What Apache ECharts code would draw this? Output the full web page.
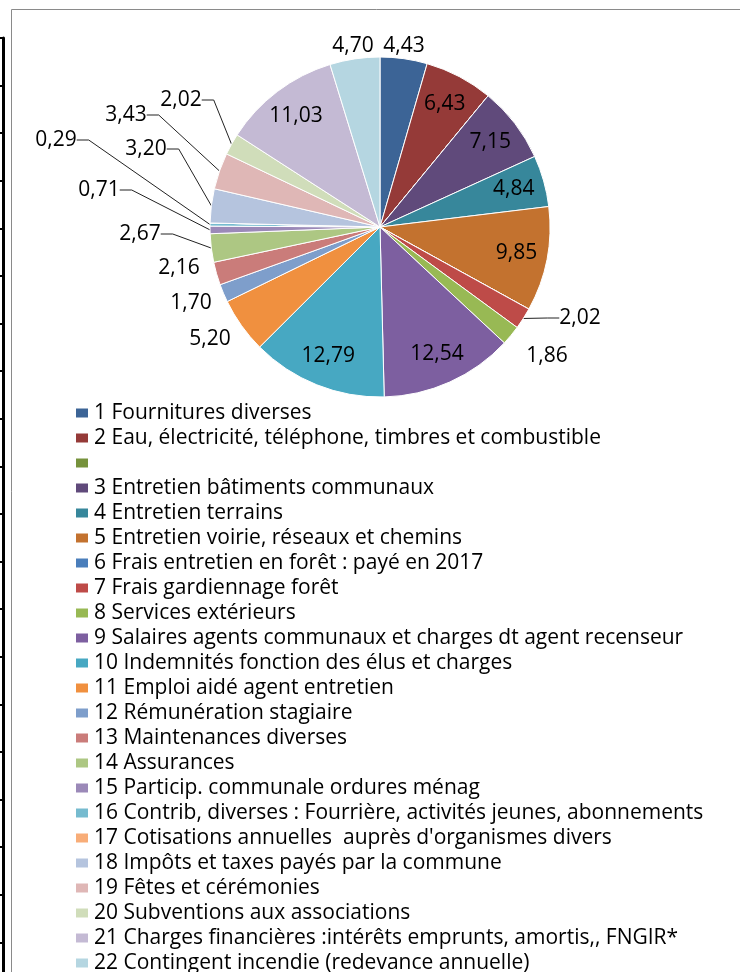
<!DOCTYPE html>
<html>
<head>
    <meta charset="utf-8">
    <title>ECharts</title>
    <script src="https://cdn.jsdelivr.net/npm/echarts@6.0.0/dist/echarts.min.js"></script>
</head>
<body style="margin:0;background:#fff;">
<div id="main" style="width: 740px;height:972px;"></div>
<script type="text/javascript">
    // postes de dépenses (l'entrée vide de la légende est gardée telle quelle)
    var names = [
        '1 Fournitures diverses',
        '2 Eau, électricité, téléphone, timbres et combustible',
        ' ',
        '3 Entretien bâtiments communaux',
        '4 Entretien terrains',
        '5 Entretien voirie, réseaux et chemins',
        '6 Frais entretien en forêt : payé en 2017',
        '7 Frais gardiennage forêt',
        '8 Services extérieurs',
        '9 Salaires agents communaux et charges dt agent recenseur',
        '10 Indemnités fonction des élus et charges',
        '11 Emploi aidé agent entretien',
        '12 Rémunération stagiaire',
        '13 Maintenances diverses',
        '14 Assurances',
        '15 Particip. communale ordures ménag',
        '16 Contrib, diverses : Fourrière, activités jeunes, abonnements',
        '17 Cotisations annuelles  auprès d\'organismes divers',
        '18 Impôts et taxes payés par la commune',
        '19 Fêtes et cérémonies',
        '20 Subventions aux associations',
        '21 Charges financières :intérêts emprunts, amortis,, FNGIR*',
        '22 Contingent incendie (redevance annuelle)'
    ];
    // parts en %
    var values = [4.43, 6.43, 0, 7.15, 4.84, 9.85, 0, 2.02, 1.86, 12.54, 12.79,
                  5.20, 1.70, 2.16, 2.67, 0.71, 0.29, 0, 3.20, 3.43, 2.02, 11.03, 4.70];

    var colors = ['#3c6496', '#953a38', '#76923c', '#604a7b', '#37879b', '#c3722f',
                  '#4a7ebb', '#be4b48', '#98b954', '#7d5fa0', '#47a8c2', '#f0903f',
                  '#7e9ecb', '#ca7c7a', '#adc783', '#9b89b8', '#76bbcf', '#f8ad78',
                  '#b5c4de', '#dfb7b6', '#d0ddba', '#c4bad4', '#b5d6e1'];

    // étiquettes placées à l'extérieur : centre du texte, trait de rappel ou non
    var outsideLabels = {
        0: [404, 46, false],
        7: [580, 318, true],
        8: [547, 356, false],
        11: [210, 339, false],
        12: [191, 303, false],
        13: [179, 268, false],
        14: [140, 234, true],
        15: [99, 190, true],
        16: [56, 140, true],
        18: [146, 149, true],
        19: [126, 115, true],
        20: [181, 100, true],
        22: [353, 46, false]
    };

    var myChart = echarts.init(document.getElementById('main'));

    var pieData = names.map(function (n, i) {
        return {name: n, value: values[i], itemStyle: {color: colors[i]}};
    });
    var labelData = names.map(function (n, i) {
        var o = outsideLabels[i];
        return {
            name: n,
            value: values[i],
            label: {show: values[i] > 0, position: o ? 'outside' : 'inside'},
            labelLine: {show: !!(o && o[2])}
        };
    });

    myChart.setOption({
        animation: false,
        backgroundColor: '#fff',
        graphic: [{
            type: 'rect',
            silent: true,
            z: -10,
            shape: {x: 11.5, y: 9.5, width: 900, height: 1100},
            style: {fill: 'none', stroke: '#8a8a8a', lineWidth: 1}
        }],
        grid: {left: 3, top: 38, width: 1, height: 952, outerBoundsMode: 'none'},
        xAxis: {type: 'value', show: false},
        yAxis: {
            type: 'value',
            min: 0, max: 20, interval: 1,
            axisLine: {show: true, lineStyle: {color: '#000', width: 3}},
            axisTick: {show: true, length: 3, lineStyle: {color: '#000', width: 2}},
            axisLabel: {show: false},
            splitLine: {show: false}
        },
        legend: {
            orient: 'vertical',
            left: 74,
            top: 400.5,
            height: 620,
            padding: 0,
            icon: 'rect',
            itemWidth: 14,
            itemHeight: 11,
            itemGap: 0,
            selectedMode: false,
            data: names,
            textStyle: {fontFamily: 'Open Sans', fontSize: 21, color: '#000', lineHeight: 25}
        },
        series: [
            {
                type: 'pie',
                silent: true,
                center: [380, 227],
                radius: 170,
                startAngle: 90,
                clockwise: true,
                label: {show: false},
                labelLine: {show: false},
                emphasis: {disabled: true},
                itemStyle: {borderColor: '#fff', borderWidth: 1},
                data: pieData
            },
            {
                // même découpage, transparent : sert seulement aux étiquettes
                type: 'pie',
                silent: true,
                center: [380, 227],
                radius: [102, 170],
                startAngle: 90,
                clockwise: true,
                avoidLabelOverlap: false,
                emphasis: {disabled: true},
                itemStyle: {color: 'rgba(0,0,0,0)', borderWidth: 0},
                label: {
                    color: '#000',
                    fontFamily: 'Open Sans',
                    fontSize: 21,
                    formatter: function (p) {
                        return p.value.toFixed(2).replace('.', ',');
                    }
                },
                labelLine: {length: 10, length2: 12, lineStyle: {color: '#222', width: 1}},
                labelLayout: function (params) {
                    var o = outsideLabels[params.dataIndex];
                    if (!o) return;
                    return {x: o[0], y: o[1], align: 'center', verticalAlign: 'middle'};
                },
                data: labelData
            }
        ]
    });
</script>
</body>
</html>
